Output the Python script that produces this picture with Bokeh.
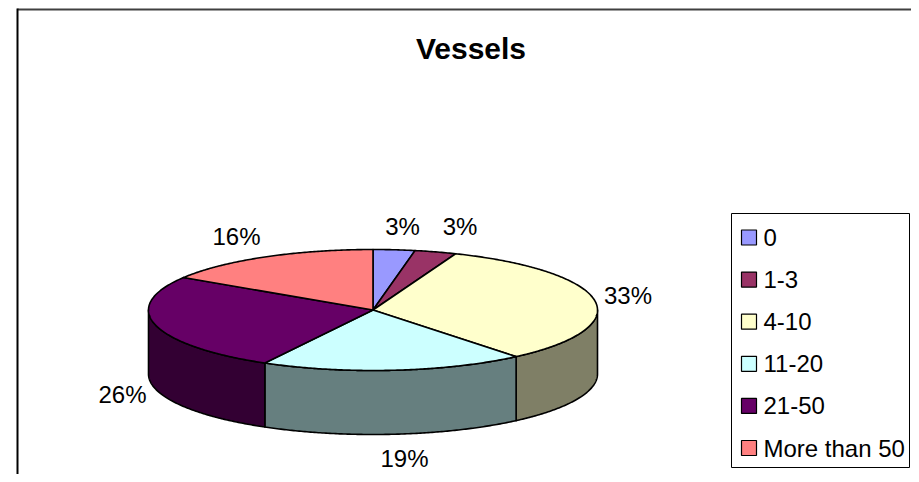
import numpy as np
from bokeh.plotting import figure
from bokeh.models import Range1d
from bokeh.embed import file_html
from bokeh.resources import INLINE
from bokeh.core.properties import value

# ---------------- data ----------------
title = "Vessels"
categories = ["0", "1-3", "4-10", "11-20", "21-50", "More than 50"]
shares = [3, 3, 33, 19, 26, 16]
labels = ["3%", "3%", "33%", "19%", "26%", "16%"]
colors = ["#9999FF", "#993366", "#FFFFCC", "#CCFFFF", "#660066", "#FF8080"]

# ---------------- layout (pixels of the picture) ----------------
W, H = 911, 474
OX, OY = 0, 0

def X(sx):
    return np.asarray(sx, dtype=float) - OX

def Y(sy):
    return H - (np.asarray(sy, dtype=float) - OY)

CX, CY, RA, RB, DEPTH = 372.5, 309.5, 224.5, 60.5, 64
LABEL_POS = [(402, 226), (459.5, 226), (627.5, 294.5), (404, 457.5), (122, 393.5), (236, 235.5)]
LEG_LEFT, LEG_TOP, LEG_RIGHT, LEG_BOTTOM = 731, 213, 909, 467
LEG_SW_X, LEG_Y0, LEG_DY, LEG_TXT_X = 748.5, 237, 42.1, 763
FONT = "Liberation Sans"


def darker(hexcol):
    h = hexcol.lstrip("#")
    r, g, b = (int(h[i:i + 2], 16) // 2 for i in (0, 2, 4))
    return "#%02x%02x%02x" % (r, g, b)


def ell(theta_deg, dy=0.0):
    t = np.radians(theta_deg)
    return CX + RA * np.cos(t), CY - RB * np.sin(t) + dy


p = figure(width=W, height=H, x_range=Range1d(0, W), y_range=Range1d(0, H),
           output_backend="svg", toolbar_location=None, min_border=0,
           x_axis_location=None, y_axis_location=None)
p.grid.visible = False
p.outline_line_color = None
p.background_fill_color = "white"

# slice angles (clockwise from 12 o'clock)
total = float(sum(shares))
cum = np.concatenate([[0.0], np.cumsum(shares)]) / total
starts = 90 - 360 * cum[:-1]
ends = 90 - 360 * cum[1:]

# ---- front side walls ----
side_xs, side_ys, side_cols = [], [], []
for s, e, c in zip(starts, ends, colors):
    hi, lo = min(s, 0.0), max(e, -180.0)
    if hi <= lo:
        continue
    th = np.linspace(hi, lo, max(int((hi - lo) * 2), 4))
    tx, ty = ell(th)
    bx, by = ell(th[::-1], DEPTH)
    side_xs.append(X(np.concatenate([tx, bx])))
    side_ys.append(Y(np.concatenate([ty, by])))
    side_cols.append(darker(c))
p.patches(xs=side_xs, ys=side_ys, fill_color=side_cols, line_color="black",
          line_width=1.6, line_join="round")

# ---- top faces ----
top_xs, top_ys = [], []
for s, e in zip(starts, ends):
    th = np.linspace(s, e, max(int((s - e) * 2), 4))
    ex, ey = ell(th)
    top_xs.append(X(np.concatenate([[CX], ex])))
    top_ys.append(Y(np.concatenate([[CY], ey])))
p.patches(xs=top_xs, ys=top_ys, fill_color=colors, line_color="black",
          line_width=1.6, line_join="round")

# ---- percentage labels ----
p.text(x=X([lp[0] for lp in LABEL_POS]), y=Y([lp[1] for lp in LABEL_POS]), text=labels,
       text_font=value(FONT), text_font_size="24px", text_align="center",
       text_baseline="middle", text_color="black")

# ---- title ----
p.text(x=X([470.5]), y=Y([47.5]), text=[title], text_font=value(FONT),
       text_font_size="30px", text_font_style="bold", text_align="center",
       text_baseline="middle", text_color="black")

# ---- chart frame (top and left edges visible) ----
p.line(x=X([17, W + 5]), y=Y([9, 9]), line_color="#404040", line_width=2)
p.line(x=X([17, 17]), y=Y([8, H + 5]), line_color="black", line_width=2)

# ---- legend ----
p.quad(left=X([LEG_LEFT]), right=X([LEG_RIGHT]), top=Y([LEG_TOP]), bottom=Y([LEG_BOTTOM]),
       fill_color="white", line_color="black", line_width=1)
ly = LEG_Y0 + LEG_DY * np.arange(len(categories))
p.rect(x=X(np.full(len(categories), LEG_SW_X)), y=Y(ly), width=15, height=15,
       fill_color=colors, line_color="black", line_width=1.2)
p.text(x=X(np.full(len(categories), LEG_TXT_X)), y=Y(ly), text=categories,
       text_font=value(FONT), text_font_size="24px", text_align="left",
       text_baseline="middle", text_color="black")

open("out.html", "w").write(file_html(p, INLINE))
